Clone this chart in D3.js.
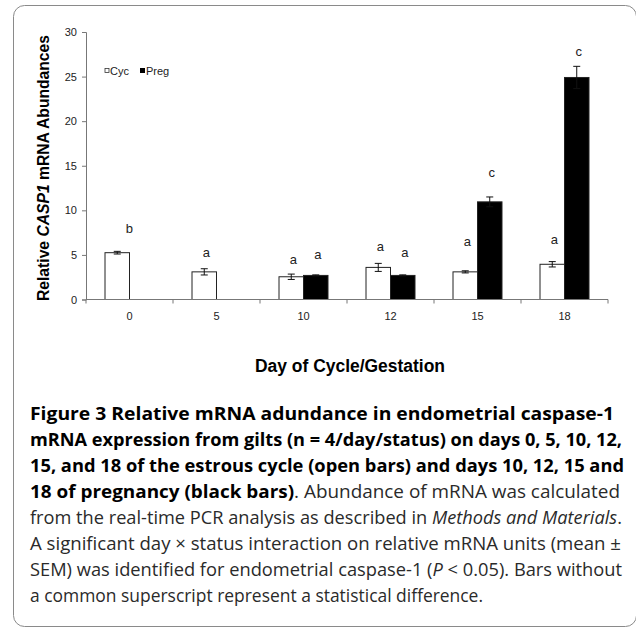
<!DOCTYPE html>
<html>
<head>
<meta charset="utf-8">
<script src="https://cdn.jsdelivr.net/npm/d3@7"></script>
<style>
  html, body { margin: 0; padding: 0; background: #fff; }
  svg { display: block; }
</style>
</head>
<body>
<script>
// days (categories)
var days = ["0", "5", "10", "12", "15", "18"];
var groups = ["Cyc", "Preg"];
// cycling gilts, mean and SEM
var cycMean = [5.25, 3.1, 2.55, 3.6, 3.1, 3.95];
var cycSem = [0.15, 0.35, 0.3, 0.45, 0.12, 0.3];
// pregnant gilts (none on day 0 and 5)
var pregMean = [null, null, 2.7, 2.7, 10.95, 24.9];
var pregSem = [null, null, 0.06, 0.06, 0.55, 1.25];
// superscript letters and the height (in axis units) where they sit
var cycLetter = ["b", "a", "a", "a", "a", "a"];
var cycLetterAt = [8.0, 5.3, 4.45, 5.9, 6.55, 6.75];
var pregLetter = [null, null, "a", "a", "c", "c"];
var pregLetterAt = [null, null, 5.0, 5.25, 14.25, 27.85];
var yTicks = [0, 5, 10, 15, 20, 25, 30];

var w = 636, h = 628;
var padL = 86, padR = 608, padT = 32, padB = 299.5;
var chartFont = "'Liberation Sans', Arial, sans-serif";
var capFont = "'Open Sans', 'Noto Sans', sans-serif";

var svg = d3.select("body").append("svg")
  .attr("width", w)
  .attr("height", h);

// frame round the figure
svg.append("rect")
  .attr("x", 13.5).attr("y", 5.5)
  .attr("width", 623).attr("height", 621)
  .attr("rx", 11).attr("ry", 11)
  .attr("fill", "none")
  .attr("stroke", "#8a8a8a")
  .attr("stroke-width", 1);

var x0 = d3.scaleBand().domain(days).range([padL, padR]).paddingInner(0);
var x1 = d3.scaleBand().domain(groups).range([0, x0.bandwidth()])
  .paddingInner(0).paddingOuter(0.776);
var y = d3.scaleLinear().domain([0, 30]).range([padB, padT]);

var rows = days.map(function(d, i) {
  return [
    {day: d, g: "Cyc", v: cycMean[i], e: cycSem[i], l: cycLetter[i], la: cycLetterAt[i]},
    {day: d, g: "Preg", v: pregMean[i], e: pregSem[i], l: pregLetter[i], la: pregLetterAt[i]}
  ];
}).flat().filter(function(r) { return r.v != null; });

function cx(d) { return x0(d.day) + x1(d.g) + x1.bandwidth() / 2; }

// Y axis
var yAxis = d3.axisLeft(y).tickValues(yTicks).tickSize(4).tickPadding(5);
var gy = svg.append("g")
  .attr("transform", "translate(" + padL + ",0)")
  .call(yAxis);
gy.select(".domain").attr("stroke", "#777");
gy.selectAll(".tick line").attr("stroke", "#777");
gy.selectAll("text")
  .attr("font-family", chartFont)
  .attr("font-size", "11px")
  .attr("fill", "#222");

// bars
svg.selectAll("rect.bar")
  .data(rows)
  .enter()
  .append("rect")
  .attr("class", "bar")
  .attr("x", function(d) { return x0(d.day) + x1(d.g); })
  .attr("y", function(d) { return y(d.v); })
  .attr("width", x1.bandwidth())
  .attr("height", function(d) { return y(0) - y(d.v); })
  .attr("fill", function(d) { return d.g == "Cyc" ? "#fff" : "#000"; })
  .attr("stroke", "#222")
  .attr("stroke-width", 1);

// error bars
var eb = svg.selectAll("g.err")
  .data(rows)
  .enter()
  .append("g")
  .attr("class", "err")
  .attr("stroke", "#111")
  .attr("stroke-width", 1);
eb.append("line")
  .attr("x1", cx)
  .attr("x2", cx)
  .attr("y1", function(d) { return y(d.v - d.e); })
  .attr("y2", function(d) { return y(d.v + d.e); });
[-1, 1].forEach(function(s) {
  eb.append("line")
    .attr("x1", function(d) { return cx(d) - 3.5; })
    .attr("x2", function(d) { return cx(d) + 3.5; })
    .attr("y1", function(d) { return y(d.v + s * d.e); })
    .attr("y2", function(d) { return y(d.v + s * d.e); });
});

// superscript letters
svg.selectAll("text.sig")
  .data(rows)
  .enter()
  .append("text")
  .attr("class", "sig")
  .attr("x", function(d) { return cx(d) + (d.day == "0" ? 12 : 2); })
  .attr("y", function(d) { return y(d.la) + 4.5; })
  .attr("text-anchor", "middle")
  .attr("font-family", chartFont)
  .attr("font-size", "13px")
  .attr("fill", "#222")
  .text(function(d) { return d.l; });

// X axis: line, ticks at the band edges, labels at the centres
svg.append("line")
  .attr("x1", padL).attr("x2", padR)
  .attr("y1", y(0)).attr("y2", y(0))
  .attr("stroke", "#777");
svg.selectAll("line.xt")
  .data(days.concat(["end"]))
  .enter()
  .append("line")
  .attr("class", "xt")
  .attr("x1", function(d) { return d == "end" ? x0.range()[1] : x0(d); })
  .attr("x2", function(d) { return d == "end" ? x0.range()[1] : x0(d); })
  .attr("y1", y(0)).attr("y2", y(0) + 4)
  .attr("stroke", "#777");
svg.selectAll("text.xl")
  .data(days)
  .enter()
  .append("text")
  .attr("class", "xl")
  .attr("x", function(d) { return x0(d) + x0.bandwidth() / 2; })
  .attr("y", 320)
  .attr("text-anchor", "middle")
  .attr("font-family", chartFont)
  .attr("font-size", "11px")
  .attr("fill", "#222")
  .text(function(d) { return d; });

// axis titles
svg.append("text")
  .attr("x", 350).attr("y", 372)
  .attr("text-anchor", "middle")
  .attr("font-family", chartFont)
  .attr("font-weight", "bold")
  .attr("font-size", "17.5px")
  .attr("textLength", 190)
  .attr("lengthAdjust", "spacingAndGlyphs")
  .text("Day of Cycle/Gestation");

var yt = svg.append("text")
  .attr("transform", "translate(49,168) rotate(-90)")
  .attr("text-anchor", "middle")
  .attr("font-family", chartFont)
  .attr("font-weight", "bold")
  .attr("font-size", "17px")
  .attr("textLength", 266)
  .attr("lengthAdjust", "spacingAndGlyphs");
yt.append("tspan").text("Relative ");
yt.append("tspan").attr("font-style", "italic").text("CASP1");
yt.append("tspan").text(" mRNA Abundances");

// legend
var lg = svg.append("g").attr("font-family", chartFont).attr("font-size", "11px").attr("fill", "#222");
lg.append("rect").attr("x", 105).attr("y", 68.5).attr("width", 4).attr("height", 4)
  .attr("fill", "#fff").attr("stroke", "#333").attr("stroke-width", 0.8);
lg.append("text").attr("x", 110).attr("y", 74.5).text("Cyc");
lg.append("rect").attr("x", 140).attr("y", 68).attr("width", 5).attr("height", 5).attr("fill", "#000");
lg.append("text").attr("x", 146).attr("y", 74.5).text("Preg");

// caption, one entry per printed line: [text, style] pieces and its width
var captionLines = [
  [[["Figure 3 Relative mRNA adundance in endometrial caspase-1", "b"]], 584],
  [[["mRNA expression from gilts (n = 4/day/status) on days 0, 5, 10, 12,", "b"]], 592],
  [[["15, and 18 of the estrous cycle (open bars) and days 10, 12, 15 and", "b"]], 594],
  [[["18 of pregnancy (black bars)", "b"], [". Abundance of mRNA was calculated", "r"]], 590],
  [[["from the real-time PCR analysis as described in ", "r"], ["Methods and Materials", "i"], [".", "r"]], 592],
  [[["A significant day \u00d7 status interaction on relative mRNA units (mean \u00b1", "r"]], 591],
  [[["SEM) was identified for endometrial caspase-1 (", "r"], ["P", "i"], [" < 0.05). Bars without", "r"]], 592],
  [[["a common superscript represent a statistical difference.", "r"]], 453]
];
// each piece is its own text; pieces are squeezed by the same factor so the line fits
captionLines.forEach(function(line, i) {
  var pieces = line[0].map(function(p) {
    return svg.append("text")
      .attr("x", 30)
      .attr("y", 420 + i * 26)
      .attr("font-family", capFont)
      .attr("font-size", "18.5px")
      .attr("font-weight", p[1] == "b" ? "bold" : "normal")
      .attr("font-style", p[1] == "i" ? "italic" : "normal")
      .attr("fill", p[1] == "b" ? "#000" : "#2a2a2a")
      .style("white-space", "pre")
      .text(p[0]);
  });
  var natural = pieces.map(function(t) { return t.node().getComputedTextLength(); });
  var k = line[1] / d3.sum(natural);
  var xx = 30;
  pieces.forEach(function(t, j) {
    var len = natural[j] * k;
    t.attr("x", xx)
      .attr("textLength", len)
      .attr("lengthAdjust", "spacingAndGlyphs");
    xx += len;
  });
});
</script>
</body>
</html>
